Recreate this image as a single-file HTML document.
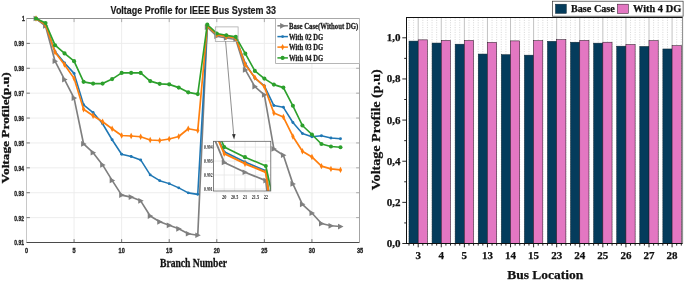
<!DOCTYPE html>
<html lang="en"><head><meta charset="utf-8"><title>Voltage Profile for IEEE Bus System 33</title>
<style>html,body{margin:0;padding:0;background:#fff}body{width:685px;height:281px;overflow:hidden}svg text{white-space:pre}</style></head>
<body>
<svg width="685" height="281" viewBox="0 0 685 281" style="display:block">
<rect width="685" height="281" fill="#fff"/>
<path d="M74.07 18.50V242.50M121.64 18.50V242.50M169.21 18.50V242.50M216.79 18.50V242.50M264.36 18.50V242.50M311.93 18.50V242.50M26.50 217.61H359.50M26.50 192.72H359.50M26.50 167.83H359.50M26.50 142.94H359.50M26.50 118.06H359.50M26.50 93.17H359.50M26.50 68.28H359.50M26.50 43.39H359.50" stroke="#ebebeb" stroke-width="0.9" fill="none"/>
<path d="M26.50 18.50V242.50" stroke="#c8c8c8" stroke-width="1" fill="none"/>
<path d="M359.50 18.50V242.50" stroke="#8c8c8c" stroke-width="1" fill="none"/>
<path d="M26.50 18.50H359.50" stroke="#8c8c8c" stroke-width="1" fill="none"/>
<path d="M26.50 242.50H359.50" stroke="#4a4a4a" stroke-width="1" fill="none"/>
<path d="M74.07 242.50v-3.4M121.64 242.50v-3.4M169.21 242.50v-3.4M216.79 242.50v-3.4M264.36 242.50v-3.4M311.93 242.50v-3.4M26.50 217.61h3.4M26.50 192.72h3.4M26.50 167.83h3.4M26.50 142.94h3.4M26.50 118.06h3.4M26.50 93.17h3.4M26.50 68.28h3.4M26.50 43.39h3.4" stroke="#555" stroke-width="0.8" fill="none"/>
<path d="M74.07 18.50v3.6M121.64 18.50v3.6M169.21 18.50v3.6M216.79 18.50v3.6M264.36 18.50v3.6M311.93 18.50v3.6M359.50 217.61h-3.4M359.50 192.72h-3.4M359.50 167.83h-3.4M359.50 142.94h-3.4M359.50 118.06h-3.4M359.50 93.17h-3.4M359.50 68.28h-3.4M359.50 43.39h-3.4" stroke="#8c8c8c" stroke-width="0.7" fill="none"/>
<g font-family="'Liberation Sans', Arial, sans-serif" font-weight="bold" font-size="7.4" fill="#262626" stroke="#262626" stroke-width="0.38">
<text x="23.9" y="245.40" text-anchor="end" textLength="9.6" lengthAdjust="spacingAndGlyphs">0.91</text>
<text x="23.9" y="220.51" text-anchor="end" textLength="9.6" lengthAdjust="spacingAndGlyphs">0.92</text>
<text x="23.9" y="195.62" text-anchor="end" textLength="9.6" lengthAdjust="spacingAndGlyphs">0.93</text>
<text x="23.9" y="170.73" text-anchor="end" textLength="9.6" lengthAdjust="spacingAndGlyphs">0.94</text>
<text x="23.9" y="145.84" text-anchor="end" textLength="9.6" lengthAdjust="spacingAndGlyphs">0.95</text>
<text x="23.9" y="120.96" text-anchor="end" textLength="9.6" lengthAdjust="spacingAndGlyphs">0.96</text>
<text x="23.9" y="96.07" text-anchor="end" textLength="9.6" lengthAdjust="spacingAndGlyphs">0.97</text>
<text x="23.9" y="71.18" text-anchor="end" textLength="9.6" lengthAdjust="spacingAndGlyphs">0.98</text>
<text x="23.9" y="46.29" text-anchor="end" textLength="9.6" lengthAdjust="spacingAndGlyphs">0.99</text>
<text x="24.9" y="21.40" text-anchor="end" textLength="2.8" lengthAdjust="spacingAndGlyphs">1</text>
<text x="26.50" y="253" text-anchor="middle" textLength="3.1" lengthAdjust="spacingAndGlyphs">0</text>
<text x="74.07" y="253" text-anchor="middle" textLength="3.1" lengthAdjust="spacingAndGlyphs">5</text>
<text x="121.64" y="253" text-anchor="middle" textLength="6.2" lengthAdjust="spacingAndGlyphs">10</text>
<text x="169.21" y="253" text-anchor="middle" textLength="6.2" lengthAdjust="spacingAndGlyphs">15</text>
<text x="216.79" y="253" text-anchor="middle" textLength="6.2" lengthAdjust="spacingAndGlyphs">20</text>
<text x="264.36" y="253" text-anchor="middle" textLength="6.2" lengthAdjust="spacingAndGlyphs">25</text>
<text x="311.93" y="253" text-anchor="middle" textLength="6.2" lengthAdjust="spacingAndGlyphs">30</text>
</g>
<polyline points="36.01,18.50 45.53,25.98 55.04,61.16 64.56,79.61 74.07,98.07 83.59,143.97 93.10,152.70 102.61,164.92 112.13,180.39 121.64,195.11 131.16,197.10 140.67,200.84 150.19,216.06 159.70,221.80 169.21,225.29 178.73,228.78 188.24,233.77 197.76,235.27 207.27,27.23 216.79,36.21 226.30,37.96 235.81,39.45 245.33,69.89 254.84,86.60 264.36,94.83 273.87,148.96 283.39,155.20 292.90,183.88 302.41,204.34 311.93,213.07 321.44,223.54 330.96,225.79 340.47,226.54" fill="none" stroke="#7f7f7f" stroke-width="1.65" stroke-linejoin="round"/>
<path d="M39.06 18.50l-5.50 -2.85l0.00 5.70z" fill="#7f7f7f"/><path d="M48.58 25.98l-5.50 -2.85l0.00 5.70z" fill="#7f7f7f"/><path d="M58.09 61.16l-5.50 -2.85l0.00 5.70z" fill="#7f7f7f"/><path d="M67.61 79.61l-5.50 -2.85l0.00 5.70z" fill="#7f7f7f"/><path d="M77.12 98.07l-5.50 -2.85l0.00 5.70z" fill="#7f7f7f"/><path d="M86.64 143.97l-5.50 -2.85l0.00 5.70z" fill="#7f7f7f"/><path d="M96.15 152.70l-5.50 -2.85l0.00 5.70z" fill="#7f7f7f"/><path d="M105.66 164.92l-5.50 -2.85l0.00 5.70z" fill="#7f7f7f"/><path d="M115.18 180.39l-5.50 -2.85l0.00 5.70z" fill="#7f7f7f"/><path d="M124.69 195.11l-5.50 -2.85l0.00 5.70z" fill="#7f7f7f"/><path d="M134.21 197.10l-5.50 -2.85l0.00 5.70z" fill="#7f7f7f"/><path d="M143.72 200.84l-5.50 -2.85l0.00 5.70z" fill="#7f7f7f"/><path d="M153.24 216.06l-5.50 -2.85l0.00 5.70z" fill="#7f7f7f"/><path d="M162.75 221.80l-5.50 -2.85l0.00 5.70z" fill="#7f7f7f"/><path d="M172.26 225.29l-5.50 -2.85l0.00 5.70z" fill="#7f7f7f"/><path d="M181.78 228.78l-5.50 -2.85l0.00 5.70z" fill="#7f7f7f"/><path d="M191.29 233.77l-5.50 -2.85l0.00 5.70z" fill="#7f7f7f"/><path d="M200.81 235.27l-5.50 -2.85l0.00 5.70z" fill="#7f7f7f"/><path d="M210.32 27.23l-5.50 -2.85l0.00 5.70z" fill="#7f7f7f"/><path d="M219.84 36.21l-5.50 -2.85l0.00 5.70z" fill="#7f7f7f"/><path d="M229.35 37.96l-5.50 -2.85l0.00 5.70z" fill="#7f7f7f"/><path d="M238.86 39.45l-5.50 -2.85l0.00 5.70z" fill="#7f7f7f"/><path d="M248.38 69.89l-5.50 -2.85l0.00 5.70z" fill="#7f7f7f"/><path d="M257.89 86.60l-5.50 -2.85l0.00 5.70z" fill="#7f7f7f"/><path d="M267.41 94.83l-5.50 -2.85l0.00 5.70z" fill="#7f7f7f"/><path d="M276.92 148.96l-5.50 -2.85l0.00 5.70z" fill="#7f7f7f"/><path d="M286.44 155.20l-5.50 -2.85l0.00 5.70z" fill="#7f7f7f"/><path d="M295.95 183.88l-5.50 -2.85l0.00 5.70z" fill="#7f7f7f"/><path d="M305.46 204.34l-5.50 -2.85l0.00 5.70z" fill="#7f7f7f"/><path d="M314.98 213.07l-5.50 -2.85l0.00 5.70z" fill="#7f7f7f"/><path d="M324.49 223.54l-5.50 -2.85l0.00 5.70z" fill="#7f7f7f"/><path d="M334.01 225.79l-5.50 -2.85l0.00 5.70z" fill="#7f7f7f"/><path d="M343.52 226.54l-5.50 -2.85l0.00 5.70z" fill="#7f7f7f"/>
<polyline points="36.01,18.50 45.53,24.74 55.04,51.43 64.56,62.90 74.07,73.38 83.59,104.81 93.10,112.54 102.61,123.77 112.13,139.73 121.64,154.20 131.16,156.44 140.67,159.93 150.19,174.90 159.70,180.64 169.21,183.63 178.73,187.87 188.24,192.86 197.76,194.36 207.27,25.98 216.79,34.31 226.30,36.14 235.81,37.71 245.33,63.40 254.84,78.12 264.36,85.85 273.87,105.56 283.39,107.30 292.90,122.52 302.41,133.49 311.93,136.74 321.44,135.74 330.96,137.98 340.47,138.73" fill="none" stroke="#1f77b4" stroke-width="1.55" stroke-linejoin="round"/>
<circle cx="36.01" cy="18.50" r="1.45" fill="#1f77b4"/><circle cx="45.53" cy="24.74" r="1.45" fill="#1f77b4"/><circle cx="55.04" cy="51.43" r="1.45" fill="#1f77b4"/><circle cx="64.56" cy="62.90" r="1.45" fill="#1f77b4"/><circle cx="74.07" cy="73.38" r="1.45" fill="#1f77b4"/><circle cx="83.59" cy="104.81" r="1.45" fill="#1f77b4"/><circle cx="93.10" cy="112.54" r="1.45" fill="#1f77b4"/><circle cx="102.61" cy="123.77" r="1.45" fill="#1f77b4"/><circle cx="112.13" cy="139.73" r="1.45" fill="#1f77b4"/><circle cx="121.64" cy="154.20" r="1.45" fill="#1f77b4"/><circle cx="131.16" cy="156.44" r="1.45" fill="#1f77b4"/><circle cx="140.67" cy="159.93" r="1.45" fill="#1f77b4"/><circle cx="150.19" cy="174.90" r="1.45" fill="#1f77b4"/><circle cx="159.70" cy="180.64" r="1.45" fill="#1f77b4"/><circle cx="169.21" cy="183.63" r="1.45" fill="#1f77b4"/><circle cx="178.73" cy="187.87" r="1.45" fill="#1f77b4"/><circle cx="188.24" cy="192.86" r="1.45" fill="#1f77b4"/><circle cx="197.76" cy="194.36" r="1.45" fill="#1f77b4"/><circle cx="207.27" cy="25.98" r="1.45" fill="#1f77b4"/><circle cx="216.79" cy="34.31" r="1.45" fill="#1f77b4"/><circle cx="226.30" cy="36.14" r="1.45" fill="#1f77b4"/><circle cx="235.81" cy="37.71" r="1.45" fill="#1f77b4"/><circle cx="245.33" cy="63.40" r="1.45" fill="#1f77b4"/><circle cx="254.84" cy="78.12" r="1.45" fill="#1f77b4"/><circle cx="264.36" cy="85.85" r="1.45" fill="#1f77b4"/><circle cx="273.87" cy="105.56" r="1.45" fill="#1f77b4"/><circle cx="283.39" cy="107.30" r="1.45" fill="#1f77b4"/><circle cx="292.90" cy="122.52" r="1.45" fill="#1f77b4"/><circle cx="302.41" cy="133.49" r="1.45" fill="#1f77b4"/><circle cx="311.93" cy="136.74" r="1.45" fill="#1f77b4"/><circle cx="321.44" cy="135.74" r="1.45" fill="#1f77b4"/><circle cx="330.96" cy="137.98" r="1.45" fill="#1f77b4"/><circle cx="340.47" cy="138.73" r="1.45" fill="#1f77b4"/>
<polyline points="36.01,18.50 45.53,24.74 55.04,52.17 64.56,64.65 74.07,78.37 83.59,109.30 93.10,115.78 102.61,121.77 112.13,128.75 121.64,135.49 131.16,135.99 140.67,136.74 150.19,139.98 159.70,140.48 169.21,138.98 178.73,136.49 188.24,128.75 197.76,130.50 207.27,25.98 216.79,34.64 226.30,36.44 235.81,37.96 245.33,64.65 254.84,77.62 264.36,86.60 273.87,113.04 283.39,117.03 292.90,136.49 302.41,151.20 311.93,156.94 321.44,166.17 330.96,168.92 340.47,169.91" fill="none" stroke="#ff7f0e" stroke-width="1.70" stroke-linejoin="round"/>
<path d="M36.01 15.30l1.65 3.2l-1.65 3.2l-1.65 -3.2z" fill="#ff7f0e"/><path d="M45.53 21.54l1.65 3.2l-1.65 3.2l-1.65 -3.2z" fill="#ff7f0e"/><path d="M55.04 48.97l1.65 3.2l-1.65 3.2l-1.65 -3.2z" fill="#ff7f0e"/><path d="M64.56 61.45l1.65 3.2l-1.65 3.2l-1.65 -3.2z" fill="#ff7f0e"/><path d="M74.07 75.17l1.65 3.2l-1.65 3.2l-1.65 -3.2z" fill="#ff7f0e"/><path d="M83.59 106.10l1.65 3.2l-1.65 3.2l-1.65 -3.2z" fill="#ff7f0e"/><path d="M93.10 112.58l1.65 3.2l-1.65 3.2l-1.65 -3.2z" fill="#ff7f0e"/><path d="M102.61 118.57l1.65 3.2l-1.65 3.2l-1.65 -3.2z" fill="#ff7f0e"/><path d="M112.13 125.55l1.65 3.2l-1.65 3.2l-1.65 -3.2z" fill="#ff7f0e"/><path d="M121.64 132.29l1.65 3.2l-1.65 3.2l-1.65 -3.2z" fill="#ff7f0e"/><path d="M131.16 132.79l1.65 3.2l-1.65 3.2l-1.65 -3.2z" fill="#ff7f0e"/><path d="M140.67 133.54l1.65 3.2l-1.65 3.2l-1.65 -3.2z" fill="#ff7f0e"/><path d="M150.19 136.78l1.65 3.2l-1.65 3.2l-1.65 -3.2z" fill="#ff7f0e"/><path d="M159.70 137.28l1.65 3.2l-1.65 3.2l-1.65 -3.2z" fill="#ff7f0e"/><path d="M169.21 135.78l1.65 3.2l-1.65 3.2l-1.65 -3.2z" fill="#ff7f0e"/><path d="M178.73 133.29l1.65 3.2l-1.65 3.2l-1.65 -3.2z" fill="#ff7f0e"/><path d="M188.24 125.55l1.65 3.2l-1.65 3.2l-1.65 -3.2z" fill="#ff7f0e"/><path d="M197.76 127.30l1.65 3.2l-1.65 3.2l-1.65 -3.2z" fill="#ff7f0e"/><path d="M207.27 22.78l1.65 3.2l-1.65 3.2l-1.65 -3.2z" fill="#ff7f0e"/><path d="M216.79 31.44l1.65 3.2l-1.65 3.2l-1.65 -3.2z" fill="#ff7f0e"/><path d="M226.30 33.24l1.65 3.2l-1.65 3.2l-1.65 -3.2z" fill="#ff7f0e"/><path d="M235.81 34.76l1.65 3.2l-1.65 3.2l-1.65 -3.2z" fill="#ff7f0e"/><path d="M245.33 61.45l1.65 3.2l-1.65 3.2l-1.65 -3.2z" fill="#ff7f0e"/><path d="M254.84 74.42l1.65 3.2l-1.65 3.2l-1.65 -3.2z" fill="#ff7f0e"/><path d="M264.36 83.40l1.65 3.2l-1.65 3.2l-1.65 -3.2z" fill="#ff7f0e"/><path d="M273.87 109.84l1.65 3.2l-1.65 3.2l-1.65 -3.2z" fill="#ff7f0e"/><path d="M283.39 113.83l1.65 3.2l-1.65 3.2l-1.65 -3.2z" fill="#ff7f0e"/><path d="M292.90 133.29l1.65 3.2l-1.65 3.2l-1.65 -3.2z" fill="#ff7f0e"/><path d="M302.41 148.00l1.65 3.2l-1.65 3.2l-1.65 -3.2z" fill="#ff7f0e"/><path d="M311.93 153.74l1.65 3.2l-1.65 3.2l-1.65 -3.2z" fill="#ff7f0e"/><path d="M321.44 162.97l1.65 3.2l-1.65 3.2l-1.65 -3.2z" fill="#ff7f0e"/><path d="M330.96 165.72l1.65 3.2l-1.65 3.2l-1.65 -3.2z" fill="#ff7f0e"/><path d="M340.47 166.71l1.65 3.2l-1.65 3.2l-1.65 -3.2z" fill="#ff7f0e"/>
<polyline points="36.01,18.50 45.53,22.99 55.04,45.19 64.56,53.42 74.07,61.16 83.59,81.86 93.10,83.61 102.61,83.61 112.13,79.11 121.64,72.88 131.16,72.88 140.67,72.88 150.19,81.11 159.70,83.85 169.21,84.35 178.73,87.60 188.24,92.34 197.76,94.08 207.27,24.49 216.79,33.47 226.30,35.26 235.81,36.83 245.33,53.67 254.84,70.88 264.36,78.62 273.87,84.60 283.39,87.60 292.90,105.81 302.41,125.51 311.93,134.49 321.44,143.97 330.96,146.47 340.47,147.21" fill="none" stroke="#2ca02c" stroke-width="1.65" stroke-linejoin="round"/>
<circle cx="36.01" cy="18.50" r="2.05" fill="#2ca02c"/><circle cx="45.53" cy="22.99" r="2.05" fill="#2ca02c"/><circle cx="55.04" cy="45.19" r="2.05" fill="#2ca02c"/><circle cx="64.56" cy="53.42" r="2.05" fill="#2ca02c"/><circle cx="74.07" cy="61.16" r="2.05" fill="#2ca02c"/><circle cx="83.59" cy="81.86" r="2.05" fill="#2ca02c"/><circle cx="93.10" cy="83.61" r="2.05" fill="#2ca02c"/><circle cx="102.61" cy="83.61" r="2.05" fill="#2ca02c"/><circle cx="112.13" cy="79.11" r="2.05" fill="#2ca02c"/><circle cx="121.64" cy="72.88" r="2.05" fill="#2ca02c"/><circle cx="131.16" cy="72.88" r="2.05" fill="#2ca02c"/><circle cx="140.67" cy="72.88" r="2.05" fill="#2ca02c"/><circle cx="150.19" cy="81.11" r="2.05" fill="#2ca02c"/><circle cx="159.70" cy="83.85" r="2.05" fill="#2ca02c"/><circle cx="169.21" cy="84.35" r="2.05" fill="#2ca02c"/><circle cx="178.73" cy="87.60" r="2.05" fill="#2ca02c"/><circle cx="188.24" cy="92.34" r="2.05" fill="#2ca02c"/><circle cx="197.76" cy="94.08" r="2.05" fill="#2ca02c"/><circle cx="207.27" cy="24.49" r="2.05" fill="#2ca02c"/><circle cx="216.79" cy="33.47" r="2.05" fill="#2ca02c"/><circle cx="226.30" cy="35.26" r="2.05" fill="#2ca02c"/><circle cx="235.81" cy="36.83" r="2.05" fill="#2ca02c"/><circle cx="245.33" cy="53.67" r="2.05" fill="#2ca02c"/><circle cx="254.84" cy="70.88" r="2.05" fill="#2ca02c"/><circle cx="264.36" cy="78.62" r="2.05" fill="#2ca02c"/><circle cx="273.87" cy="84.60" r="2.05" fill="#2ca02c"/><circle cx="283.39" cy="87.60" r="2.05" fill="#2ca02c"/><circle cx="292.90" cy="105.81" r="2.05" fill="#2ca02c"/><circle cx="302.41" cy="125.51" r="2.05" fill="#2ca02c"/><circle cx="311.93" cy="134.49" r="2.05" fill="#2ca02c"/><circle cx="321.44" cy="143.97" r="2.05" fill="#2ca02c"/><circle cx="330.96" cy="146.47" r="2.05" fill="#2ca02c"/><circle cx="340.47" cy="147.21" r="2.05" fill="#2ca02c"/>
<rect x="215.3" y="26.9" width="22.8" height="14.5" fill="none" stroke="#a6a6a6" stroke-width="0.75"/>
<path d="M225.6 41.4L233.8 136" stroke="#5e5e5e" stroke-width="0.7" fill="none"/>
<path d="M234.1 139.5l-2.1 -5.2l3.6 -0.3z" fill="#333"/>
<clipPath id="ic"><rect x="213.40" y="141.30" width="57.40" height="49.70"/></clipPath>
<rect x="213.40" y="141.30" width="57.40" height="49.70" fill="#fff"/>
<path d="M224.20 141.30V191.00M234.60 141.30V191.00M245.00 141.30V191.00M255.40 141.30V191.00M265.80 141.30V191.00M213.40 189.00H270.80M213.40 175.03H270.80M213.40 161.06H270.80M213.40 147.09H270.80" stroke="#e6e6e6" stroke-width="0.8" fill="none"/>
<g clip-path="url(#ic)">
<polyline points="182.60,1277.26 203.40,112.16 224.20,162.46 245.00,172.24 265.80,180.62 286.60,351.05 307.40,444.65" fill="none" stroke="#7f7f7f" stroke-width="1.80" stroke-linejoin="round"/>
<path d="M206.45 112.16l-5.50 -2.85l0.00 5.70z" fill="#7f7f7f"/><path d="M227.25 162.46l-5.50 -2.85l0.00 5.70z" fill="#7f7f7f"/><path d="M248.05 172.24l-5.50 -2.85l0.00 5.70z" fill="#7f7f7f"/><path d="M268.85 180.62l-5.50 -2.85l0.00 5.70z" fill="#7f7f7f"/><path d="M289.65 351.05l-5.50 -2.85l0.00 5.70z" fill="#7f7f7f"/>
<polyline points="182.60,1048.15 203.40,105.18 224.20,151.84 245.00,162.04 265.80,170.84 286.60,314.73 307.40,397.15" fill="none" stroke="#1f77b4" stroke-width="1.70" stroke-linejoin="round"/>
<circle cx="203.40" cy="105.18" r="1.45" fill="#1f77b4"/><circle cx="224.20" cy="151.84" r="1.45" fill="#1f77b4"/><circle cx="245.00" cy="162.04" r="1.45" fill="#1f77b4"/><circle cx="265.80" cy="170.84" r="1.45" fill="#1f77b4"/><circle cx="286.60" cy="314.73" r="1.45" fill="#1f77b4"/>
<polyline points="182.60,690.52 203.40,105.18 224.20,153.66 245.00,163.71 265.80,172.24 286.60,321.71 307.40,394.36" fill="none" stroke="#ff7f0e" stroke-width="2.00" stroke-linejoin="round"/>
<path d="M203.40 101.98l1.65 3.2l-1.65 3.2l-1.65 -3.2z" fill="#ff7f0e"/><path d="M224.20 150.46l1.65 3.2l-1.65 3.2l-1.65 -3.2z" fill="#ff7f0e"/><path d="M245.00 160.51l1.65 3.2l-1.65 3.2l-1.65 -3.2z" fill="#ff7f0e"/><path d="M265.80 169.04l1.65 3.2l-1.65 3.2l-1.65 -3.2z" fill="#ff7f0e"/><path d="M286.60 318.51l1.65 3.2l-1.65 3.2l-1.65 -3.2z" fill="#ff7f0e"/>
<polyline points="182.60,486.56 203.40,96.80 224.20,147.09 245.00,157.15 265.80,165.95 286.60,260.25 307.40,356.64" fill="none" stroke="#2ca02c" stroke-width="1.65" stroke-linejoin="round"/>
<circle cx="203.40" cy="96.80" r="2.05" fill="#2ca02c"/><circle cx="224.20" cy="147.09" r="2.05" fill="#2ca02c"/><circle cx="245.00" cy="157.15" r="2.05" fill="#2ca02c"/><circle cx="265.80" cy="165.95" r="2.05" fill="#2ca02c"/><circle cx="286.60" cy="260.25" r="2.05" fill="#2ca02c"/>
</g>
<rect x="213.40" y="141.30" width="57.40" height="49.70" fill="none" stroke="#5a5a5a" stroke-width="0.75"/>
<g font-family="'Liberation Serif', 'Times New Roman', serif" font-weight="bold" font-size="5.6" fill="#1a1a1a">
<text x="212.50" y="190.80" text-anchor="end" textLength="8.4" lengthAdjust="spacingAndGlyphs">0.991</text>
<text x="212.50" y="176.83" text-anchor="end" textLength="8.4" lengthAdjust="spacingAndGlyphs">0.992</text>
<text x="212.50" y="162.86" text-anchor="end" textLength="8.4" lengthAdjust="spacingAndGlyphs">0.993</text>
<text x="212.50" y="148.89" text-anchor="end" textLength="8.4" lengthAdjust="spacingAndGlyphs">0.994</text>
<text x="224.20" y="198.9" text-anchor="middle" textLength="4.3" lengthAdjust="spacingAndGlyphs">20</text>
<text x="234.60" y="198.9" text-anchor="middle" textLength="7.2" lengthAdjust="spacingAndGlyphs">20.5</text>
<text x="245.00" y="198.9" text-anchor="middle" textLength="4.3" lengthAdjust="spacingAndGlyphs">21</text>
<text x="255.40" y="198.9" text-anchor="middle" textLength="7.2" lengthAdjust="spacingAndGlyphs">21.5</text>
<text x="265.80" y="198.9" text-anchor="middle" textLength="4.3" lengthAdjust="spacingAndGlyphs">22</text>
</g>
<rect x="275.6" y="18.6" width="83.9" height="44.8" fill="#fff" stroke="#a4a4a4" stroke-width="0.8"/>
<g font-family="'Liberation Serif', 'Times New Roman', serif" font-weight="bold" font-size="9" fill="#1c1c1c">
<path d="M277.4 25.80H287.9" stroke="#7f7f7f" stroke-width="1.5"/>
<path d="M285.65 25.80l-5.50 -2.85l0.00 5.70z" fill="#7f7f7f"/>
<text x="289" y="28.70" stroke="#1c1c1c" stroke-width="0.28" textLength="69.3" lengthAdjust="spacingAndGlyphs">Base Case(Without DG)</text>
<path d="M277.4 36.60H287.9" stroke="#1f77b4" stroke-width="1.5"/>
<circle cx="282.60" cy="36.60" r="1.45" fill="#1f77b4"/>
<text x="289" y="39.50" stroke="#1c1c1c" stroke-width="0.28" textLength="34.2" lengthAdjust="spacingAndGlyphs">With 02 DG</text>
<path d="M277.4 47.10H287.9" stroke="#ff7f0e" stroke-width="1.5"/>
<path d="M282.60 43.90l1.65 3.2l-1.65 3.2l-1.65 -3.2z" fill="#ff7f0e"/>
<text x="289" y="50.00" stroke="#1c1c1c" stroke-width="0.28" textLength="34.2" lengthAdjust="spacingAndGlyphs">With 03 DG</text>
<path d="M277.4 57.90H287.9" stroke="#2ca02c" stroke-width="1.5"/>
<circle cx="282.60" cy="57.90" r="2.05" fill="#2ca02c"/>
<text x="289" y="60.80" stroke="#1c1c1c" stroke-width="0.28" textLength="34.2" lengthAdjust="spacingAndGlyphs">With 04 DG</text>
</g>
<text x="110.6" y="13.5" font-family="'Liberation Sans', Arial, sans-serif" font-weight="bold" font-size="11" fill="#1a1a1a" stroke="#1a1a1a" stroke-width="0.2" textLength="165.4" lengthAdjust="spacingAndGlyphs">Voltage Profile for IEEE Bus System 33</text>
<text x="160" y="267.3" font-family="'Liberation Serif', 'Times New Roman', serif" font-weight="bold" font-size="13.2" fill="#111" stroke="#111" stroke-width="0.3" textLength="67" lengthAdjust="spacingAndGlyphs">Branch Number</text>
<text transform="translate(8.5 183.4) rotate(-90)" font-family="'Liberation Serif', 'Times New Roman', serif" font-weight="bold" font-size="9.8" fill="#111" stroke="#111" stroke-width="0.3" textLength="111" lengthAdjust="spacingAndGlyphs">Voltage Profile(p.u)</text>
<rect x="359.8" y="0" width="326" height="244" fill="#fff"/>
<text x="356.9" y="253" font-family="'Liberation Sans', Arial, sans-serif" font-weight="bold" font-size="7.4" fill="#262626" stroke="#262626" stroke-width="0.38" textLength="6.2" lengthAdjust="spacingAndGlyphs">35</text>
<path d="M408.97 17.50V243.50M413.58 17.50V243.50M422.82 17.50V243.50M427.43 17.50V243.50M432.05 17.50V243.50M436.66 17.50V243.50M445.90 17.50V243.50M450.51 17.50V243.50M455.13 17.50V243.50M459.74 17.50V243.50M468.98 17.50V243.50M473.59 17.50V243.50M478.21 17.50V243.50M482.82 17.50V243.50M492.06 17.50V243.50M496.67 17.50V243.50M501.29 17.50V243.50M505.90 17.50V243.50M515.14 17.50V243.50M519.75 17.50V243.50M524.37 17.50V243.50M528.98 17.50V243.50M538.22 17.50V243.50M542.83 17.50V243.50M547.45 17.50V243.50M552.06 17.50V243.50M561.30 17.50V243.50M565.91 17.50V243.50M570.53 17.50V243.50M575.14 17.50V243.50M584.38 17.50V243.50M588.99 17.50V243.50M593.61 17.50V243.50M598.22 17.50V243.50M607.46 17.50V243.50M612.07 17.50V243.50M616.69 17.50V243.50M621.30 17.50V243.50M630.54 17.50V243.50M635.15 17.50V243.50M639.77 17.50V243.50M644.38 17.50V243.50M653.62 17.50V243.50M658.23 17.50V243.50M662.85 17.50V243.50M667.46 17.50V243.50M676.70 17.50V243.50M681.31 17.50V243.50" stroke="#bcbcbc" stroke-width="0.6" stroke-dasharray="1 1.4" fill="none"/>
<path d="M418.20 17.50V243.50M441.28 17.50V243.50M464.36 17.50V243.50M487.44 17.50V243.50M510.52 17.50V243.50M533.60 17.50V243.50M556.68 17.50V243.50M579.76 17.50V243.50M602.84 17.50V243.50M625.92 17.50V243.50M649.00 17.50V243.50M672.08 17.50V243.50" stroke="#a8a8a8" stroke-width="0.7" fill="none"/>
<path d="M682.60 17.50V243.50" stroke="#7a7a7a" stroke-width="0.9" fill="none"/>
<rect x="409.00" y="41.09" width="9.20" height="202.41" fill="#043c5c" stroke="#0a2230" stroke-width="0.5"/>
<rect x="418.20" y="39.86" width="9.20" height="203.64" fill="#e377c2" stroke="#2e1a28" stroke-width="0.55"/>
<rect x="432.08" y="43.05" width="9.20" height="200.45" fill="#043c5c" stroke="#0a2230" stroke-width="0.5"/>
<rect x="441.28" y="40.47" width="9.20" height="203.03" fill="#e377c2" stroke="#2e1a28" stroke-width="0.55"/>
<rect x="455.16" y="44.18" width="9.20" height="199.32" fill="#043c5c" stroke="#0a2230" stroke-width="0.5"/>
<rect x="464.36" y="40.47" width="9.20" height="203.03" fill="#e377c2" stroke="#2e1a28" stroke-width="0.55"/>
<rect x="478.24" y="54.05" width="9.20" height="189.45" fill="#043c5c" stroke="#0a2230" stroke-width="0.5"/>
<rect x="487.44" y="42.41" width="9.20" height="201.09" fill="#e377c2" stroke="#2e1a28" stroke-width="0.55"/>
<rect x="501.32" y="54.67" width="9.20" height="188.83" fill="#043c5c" stroke="#0a2230" stroke-width="0.5"/>
<rect x="510.52" y="40.89" width="9.20" height="202.61" fill="#e377c2" stroke="#2e1a28" stroke-width="0.55"/>
<rect x="524.40" y="55.16" width="9.20" height="188.34" fill="#043c5c" stroke="#0a2230" stroke-width="0.5"/>
<rect x="533.60" y="40.68" width="9.20" height="202.82" fill="#e377c2" stroke="#2e1a28" stroke-width="0.55"/>
<rect x="547.48" y="41.30" width="9.20" height="202.20" fill="#043c5c" stroke="#0a2230" stroke-width="0.5"/>
<rect x="556.68" y="39.71" width="9.20" height="203.79" fill="#e377c2" stroke="#2e1a28" stroke-width="0.55"/>
<rect x="570.56" y="42.22" width="9.20" height="201.28" fill="#043c5c" stroke="#0a2230" stroke-width="0.5"/>
<rect x="579.76" y="40.41" width="9.20" height="203.09" fill="#e377c2" stroke="#2e1a28" stroke-width="0.55"/>
<rect x="593.64" y="43.15" width="9.20" height="200.35" fill="#043c5c" stroke="#0a2230" stroke-width="0.5"/>
<rect x="602.84" y="42.22" width="9.20" height="201.28" fill="#e377c2" stroke="#2e1a28" stroke-width="0.55"/>
<rect x="616.72" y="46.17" width="9.20" height="197.33" fill="#043c5c" stroke="#0a2230" stroke-width="0.5"/>
<rect x="625.92" y="44.55" width="9.20" height="198.95" fill="#e377c2" stroke="#2e1a28" stroke-width="0.55"/>
<rect x="639.80" y="46.44" width="9.20" height="197.06" fill="#043c5c" stroke="#0a2230" stroke-width="0.5"/>
<rect x="649.00" y="40.68" width="9.20" height="202.82" fill="#e377c2" stroke="#2e1a28" stroke-width="0.55"/>
<rect x="662.88" y="48.97" width="9.20" height="194.53" fill="#043c5c" stroke="#0a2230" stroke-width="0.5"/>
<rect x="672.08" y="45.72" width="9.20" height="197.78" fill="#e377c2" stroke="#2e1a28" stroke-width="0.55"/>
<path d="M406.00 17.50H682.60 M406.50 17.50V243.50 M406.00 243.50H682.60" stroke="#111" stroke-width="1" fill="none"/>
<path d="M406.50 243.50h-4.20M406.50 222.93h-2.30M406.50 202.36h-4.20M406.50 181.79h-2.30M406.50 161.22h-4.20M406.50 140.65h-2.30M406.50 120.08h-4.20M406.50 99.51h-2.30M406.50 78.94h-4.20M406.50 58.37h-2.30M406.50 37.80h-4.20M408.97 243.50v2.10M413.58 243.50v2.10M418.20 243.50v3.80M422.82 243.50v2.10M427.43 243.50v2.10M432.05 243.50v2.10M436.66 243.50v2.10M441.28 243.50v3.80M445.90 243.50v2.10M450.51 243.50v2.10M455.13 243.50v2.10M459.74 243.50v2.10M464.36 243.50v3.80M468.98 243.50v2.10M473.59 243.50v2.10M478.21 243.50v2.10M482.82 243.50v2.10M487.44 243.50v3.80M492.06 243.50v2.10M496.67 243.50v2.10M501.29 243.50v2.10M505.90 243.50v2.10M510.52 243.50v3.80M515.14 243.50v2.10M519.75 243.50v2.10M524.37 243.50v2.10M528.98 243.50v2.10M533.60 243.50v3.80M538.22 243.50v2.10M542.83 243.50v2.10M547.45 243.50v2.10M552.06 243.50v2.10M556.68 243.50v3.80M561.30 243.50v2.10M565.91 243.50v2.10M570.53 243.50v2.10M575.14 243.50v2.10M579.76 243.50v3.80M584.38 243.50v2.10M588.99 243.50v2.10M593.61 243.50v2.10M598.22 243.50v2.10M602.84 243.50v3.80M607.46 243.50v2.10M612.07 243.50v2.10M616.69 243.50v2.10M621.30 243.50v2.10M625.92 243.50v3.80M630.54 243.50v2.10M635.15 243.50v2.10M639.77 243.50v2.10M644.38 243.50v2.10M649.00 243.50v3.80M653.62 243.50v2.10M658.23 243.50v2.10M662.85 243.50v2.10M667.46 243.50v2.10M672.08 243.50v3.80M676.70 243.50v2.10M681.31 243.50v2.10" stroke="#111" stroke-width="0.9" fill="none"/>
<g font-family="'Liberation Serif', 'Times New Roman', serif" font-weight="bold" fill="#111" stroke="#111" stroke-width="0.25">
<g font-size="11">
<text x="400.4" y="247.00" text-anchor="end">0,0</text>
<text x="400.4" y="205.86" text-anchor="end">0,2</text>
<text x="400.4" y="164.72" text-anchor="end">0,4</text>
<text x="400.4" y="123.58" text-anchor="end">0,6</text>
<text x="400.4" y="82.44" text-anchor="end">0,8</text>
<text x="400.4" y="41.30" text-anchor="end">1,0</text>
<text x="418.20" y="259.2" text-anchor="middle">3</text>
<text x="441.28" y="259.2" text-anchor="middle">4</text>
<text x="464.36" y="259.2" text-anchor="middle">5</text>
<text x="487.44" y="259.2" text-anchor="middle">13</text>
<text x="510.52" y="259.2" text-anchor="middle">14</text>
<text x="533.60" y="259.2" text-anchor="middle">15</text>
<text x="556.68" y="259.2" text-anchor="middle">23</text>
<text x="579.76" y="259.2" text-anchor="middle">24</text>
<text x="602.84" y="259.2" text-anchor="middle">25</text>
<text x="625.92" y="259.2" text-anchor="middle">26</text>
<text x="649.00" y="259.2" text-anchor="middle">27</text>
<text x="672.08" y="259.2" text-anchor="middle">28</text>
</g>
<text x="507.2" y="279.3" font-size="13.5" textLength="76" lengthAdjust="spacingAndGlyphs">Bus Location</text>
<text transform="translate(380 190.3) rotate(-90)" font-size="12.8" textLength="121" lengthAdjust="spacingAndGlyphs">Voltage Profile (p.u)</text>
<rect x="552.4" y="1.2" width="130.7" height="15" fill="#fff" stroke="#333" stroke-width="0.7"/>
<rect x="555.5" y="4.2" width="10.8" height="9.2" fill="#043c5c" stroke="#0a2230" stroke-width="0.5"/>
<rect x="617.5" y="4.2" width="10.8" height="9.2" fill="#e377c2" stroke="#2e1a28" stroke-width="0.55"/>
<text x="571" y="12.3" font-size="10.4" textLength="43.8" lengthAdjust="spacingAndGlyphs">Base Case</text>
<text x="633" y="12.3" font-size="10.4" textLength="48.2" lengthAdjust="spacingAndGlyphs">With 4 DG</text>
</g>
</svg>
</body></html>
